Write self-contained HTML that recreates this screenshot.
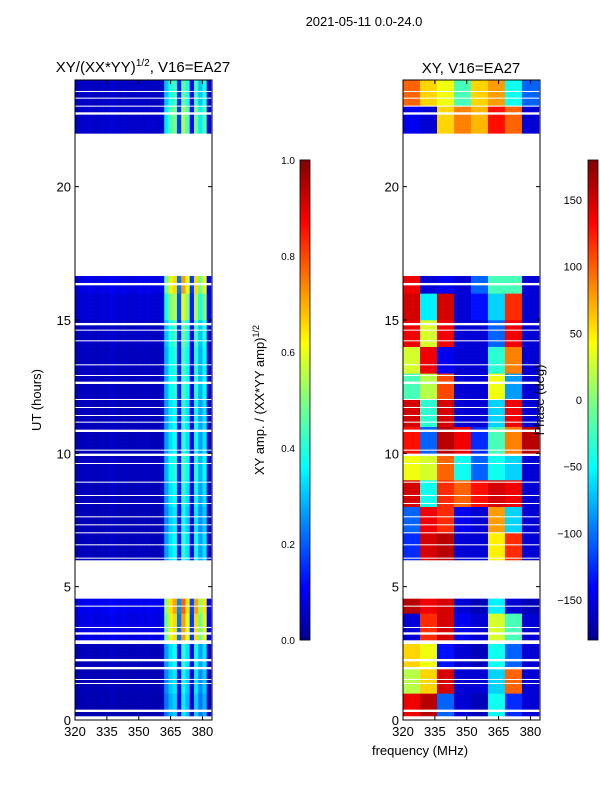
<!DOCTYPE html>
<html><head><meta charset="utf-8">
<style>
body{margin:0;background:#fff;}
svg text{font-family:"Liberation Sans","DejaVu Sans",sans-serif;fill:#000;}
</style></head>
<body>
<svg id="fig" width="600" height="800" viewBox="0 0 600 800" xmlns="http://www.w3.org/2000/svg">
<defs>
<linearGradient id="jet" x1="0" y1="1" x2="0" y2="0">
<stop offset="0" stop-color="#00008f"/><stop offset="0.11" stop-color="#0000ff"/>
<stop offset="0.36" stop-color="#00ffff"/><stop offset="0.5" stop-color="#7fff7f"/>
<stop offset="0.62" stop-color="#ffff00"/><stop offset="0.87" stop-color="#ff0000"/>
<stop offset="1" stop-color="#800000"/>
</linearGradient>
</defs>
<text x="364" y="26" font-size="13" text-anchor="middle">2021-05-11 0.0-24.0</text>
<text x="143" y="72" font-size="15" text-anchor="middle">XY/(XX*YY)<tspan font-size="10" dy="-6">1/2</tspan><tspan dy="6">, V16=EA27</tspan></text>
<text x="471" y="73" font-size="15" text-anchor="middle">XY, V16=EA27</text>
<g id="left"></g>
<g id="right"></g>
<g id="axes"></g>
<rect x="300" y="160" width="10" height="480" fill="url(#jet)" stroke="#000" stroke-width="0.8"/>
<rect x="588" y="160" width="10" height="480" fill="url(#jet)" stroke="#000" stroke-width="0.8"/>
<text transform="translate(41,400) rotate(-90)" font-size="13" text-anchor="middle">UT (hours)</text>
<text transform="translate(264,400) rotate(-90)" font-size="13" text-anchor="middle">XY amp. / (XX*YY amp)<tspan font-size="9" dy="-5">1/2</tspan></text>
<text transform="translate(544,400) rotate(-90)" font-size="13" text-anchor="middle">Phase (deg)</text>
<text x="420" y="755" font-size="13" text-anchor="middle">frequency (MHz)</text>
</svg>
<script>
const freqTicks=[320,335,350,365,380];
const hourTicks=[0,5,10,15,20];
const ampTicks=[0.0,0.2,0.4,0.6,0.8,1.0];
const phaseTicks=[-150,-100,-50,0,50,100,150];
const coverage=[[0.15,2.85],[3.0,4.55],[5.9,16.65],[22.0,24.0]];
const gaps=[[0.3,0.4],[1.35,1.4],[1.5,1.55],[1.9,2.0],[2.2,2.3],[3.2,3.3],[3.45,3.5],[4.25,4.3],[6.05,6.1],[6.55,6.6],[7.0,7.05],[7.3,7.35],[7.6,7.65],[8.1,8.15],[8.4,8.45],[8.9,8.95],[9.6,9.65],[9.9,10.0],[10.1,10.15],[10.8,10.9],[11.15,11.2],[11.4,11.45],[11.7,11.75],[12.0,12.05],[12.6,12.7],[12.9,12.95],[13.3,13.35],[14.2,14.25],[14.6,14.65],[14.8,14.9],[16.3,16.4],[22.7,22.8],[23.0,23.05],[23.3,23.35],[23.55,23.6]];
const chanProfile=[0.07,0.08,0.08,0.09,0.08,0.08,0.09,0.08,0.1,0.09,0.08,0.09,0.08,0.08,0.08,0.09,0.08,0.09,0.08,0.08,0.09,0.4,0.5,0.55,0.2,0.6,0.5,0.15,0.55,0.4,0.5,0.1];
const hourAmp=[0.6,0.65,0.7,1.2,1.3,null,0.7,0.65,0.7,0.75,0.7,0.7,0.75,0.75,0.8,1.0,1.2,null,null,null,null,null,0.9,0.8];
const phaseGrid=[
[140,160,-100,-150,-160,-40,-120,-150],[20,60,150,-150,-150,-60,100,-150],[60,40,-130,-150,-160,-40,-100,-150],
[-150,120,150,-140,-150,30,-20,-150],[160,140,150,-150,-160,-50,-150,-160],null,
[-120,150,160,-150,-150,50,120,-150],[-100,140,120,-140,-150,80,-60,-150],[150,-40,120,100,130,150,140,-150],
[40,30,100,-40,-100,-40,-60,-150],[130,-100,160,140,-120,-20,90,160],[150,-30,150,-150,-150,-60,140,-150],
[-20,20,110,-150,-150,40,-80,-150],[30,140,-140,-150,-150,-30,90,-150],[140,30,140,-150,-150,-100,140,-150],
[150,-50,150,-150,-130,-60,120,-150],[140,-150,-140,-150,-100,-20,-20,-150],null,null,null,null,null,
[-140,-150,60,90,70,130,100,-150],[100,60,40,-20,60,80,-40,-100]];

const NS='http://www.w3.org/2000/svg';
const F0=320,F1=384.5,PY0=80,PY1=720,PW=137;
function xs(f,x0){return x0+(f-F0)/(F1-F0)*PW;}
function ys(h){return PY1-h/24*(PY1-PY0);}
function jet(v){v=Math.max(0,Math.min(1,v));
 const r=Math.max(0,Math.min(1,1.5-Math.abs(4*v-3))),g=Math.max(0,Math.min(1,1.5-Math.abs(4*v-2))),b=Math.max(0,Math.min(1,1.5-Math.abs(4*v-1)));
 return `rgb(${Math.round(r*255)},${Math.round(g*255)},${Math.round(b*255)})`;}
function mk(tag,a,p){const e=document.createElementNS(NS,tag);for(const k in a)e.setAttribute(k,a[k]);p.appendChild(e);return e;}
function covered(h){return coverage.some(c=>h>=c[0]&&h<c[1])&&!gaps.some(g=>h>=g[0]&&h<g[1]);}
const L=document.getElementById('left'),R=document.getElementById('right'),A=document.getElementById('axes');
const dh=0.05,df=2;
for(let h=0;h<24;h+=dh){
 const hm=h+dh/2; if(!covered(hm))continue;
 const hi=Math.floor(hm); const ha=hourAmp[hi]; const pg=phaseGrid[hi];
 const y=ys(h+dh),ht=ys(h)-ys(h+dh)+0.3;
 if(ha!==null){
  for(let c=0;c<chanProfile.length;c++){
   const f=F0+c*df; const x=xs(f,75),w=xs(f+df,75)-x+0.3;
   const r=mk('rect',{x:x,y:y,width:Math.min(w,212-x),height:ht,fill:jet(chanProfile[c]*ha)},L);
   
   
  }}
 if(pg){
  for(let b=0;b<pg.length;b++){
   const f=F0+b*8; const x=xs(f,403),w=Math.min(xs(f+8,403),540)-x+0.3;
   const r=mk('rect',{x:x,y:y,width:w,height:ht,fill:jet((pg[b]+180)/360)},R);
   
   
  }}
}
[75,403].forEach((x0,pi)=>{
 const fr=mk('rect',{x:x0,y:PY0,width:PW,height:PY1-PY0,fill:'none',stroke:'#000','stroke-width':1},A);
 
 
 freqTicks.forEach(f=>{const x=xs(f,x0);
  mk('line',{x1:x,x2:x,y1:PY1,y2:PY1-4,stroke:'#000'},A);mk('line',{x1:x,x2:x,y1:PY0,y2:PY0+4,stroke:'#000'},A);
  const t=mk('text',{x:x,y:PY1+16,'font-size':13,'text-anchor':'middle'},A);t.textContent=f;
  
  });
 hourTicks.forEach(hh=>{const y=ys(hh);
  mk('line',{x1:x0,x2:x0+4,y1:y,y2:y,stroke:'#000'},A);mk('line',{x1:x0+PW,x2:x0+PW-4,y1:y,y2:y,stroke:'#000'},A);
  const t=mk('text',{x:x0-4,y:y+5,'font-size':13,'text-anchor':'end'},A);t.textContent=hh;
  
  });
});
ampTicks.forEach(v=>{const y=640-v*480;
 mk('line',{x1:300,x2:310,y1:y,y2:y,stroke:'#000','stroke-width':0.6},A);
 const t=mk('text',{x:295,y:y+4,'font-size':10,'text-anchor':'end'},A);t.textContent=v.toFixed(1);
 
 });
phaseTicks.forEach(v=>{const y=640-(v+180)/360*480;
 mk('line',{x1:588,x2:598,y1:y,y2:y,stroke:'#000','stroke-width':0.6},A);
 const t=mk('text',{x:582,y:y+4,'font-size':11,'text-anchor':'end'},A);t.textContent=v<0?'\u2212'+(-v):v;
 
 });
</script>
</body></html>
